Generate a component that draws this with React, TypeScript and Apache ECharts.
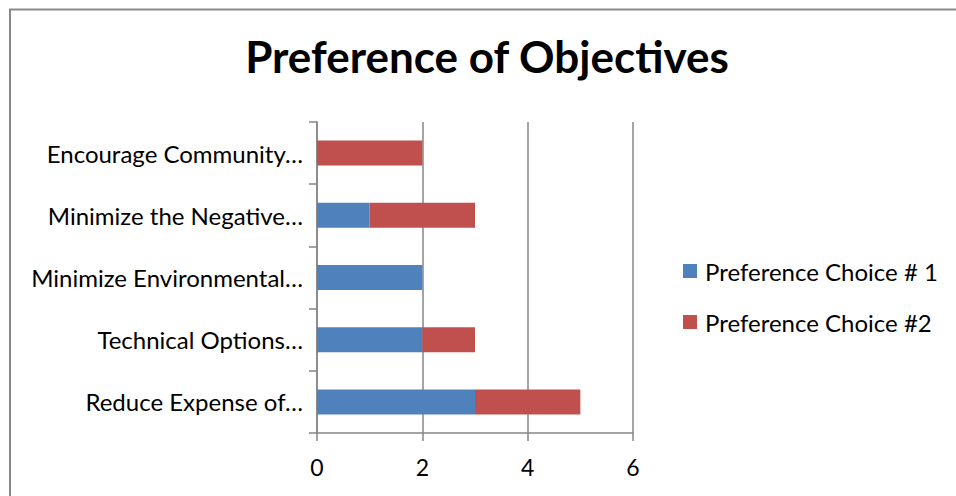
import React, { useEffect, useRef } from "react";
import * as echarts from "echarts";

const categories = [
  "Reduce Expense of…",
  "Technical Options…",
  "Minimize Environmental…",
  "Minimize the Negative…",
  "Encourage Community…",
];
const choice1 = [3, 2, 2, 1, 0];
const choice2 = [2, 1, 0, 2, 2];
const xTicks = [0, 2, 4, 6];

const FONT = "Lato, 'Open Sans', sans-serif";
const GREY = "#868686";

export default function App() {
  const ref = useRef<HTMLDivElement>(null);
  useEffect(() => {
    const chart = echarts.init(ref.current!, null, { renderer: "svg" });
    chart.setOption({
      animation: false,
      backgroundColor: "#ffffff",
      title: {
        text: "Preference of Objectives",
        left: 487,
        textAlign: "center",
        top: 34,
        padding: 0,
        textStyle: { fontFamily: FONT, fontSize: 44, fontWeight: "bold", color: "#000" },
      },
      graphic: [
        {
          type: "rect",
          shape: { x: 10, y: 9.5, width: 980, height: 520 },
          style: { fill: "none", stroke: "#898989", lineWidth: 2 },
          silent: true,
        },
      ],
      legend: {
        orient: "vertical",
        left: 683,
        top: 259,
        padding: 0,
        itemWidth: 14,
        itemHeight: 14,
        itemGap: 27,
        icon: "rect",
        textStyle: { fontFamily: FONT, fontSize: 24, color: "#000", padding: [0, 0, 0, 3] },
        data: ["Preference Choice # 1", "Preference Choice #2"],
      },
      grid: { left: 317, right: 323, top: 122, bottom: 63, containLabel: false },
      xAxis: {
        type: "value",
        min: xTicks[0],
        max: xTicks[xTicks.length - 1],
        interval: 2,
        axisLine: { show: true, lineStyle: { color: GREY, width: 1.5 } },
        axisTick: { show: true, length: 8, lineStyle: { color: GREY, width: 1.5 } },
        axisLabel: { fontFamily: FONT, fontSize: 23, color: "#000", margin: 22 },
        splitLine: { show: true, lineStyle: { color: GREY, width: 1.5 } },
      },
      yAxis: {
        type: "category",
        data: categories,
        axisLine: { show: true, lineStyle: { color: GREY, width: 1.5 } },
        axisTick: { show: true, length: 8, lineStyle: { color: GREY, width: 1.5 } },
        axisLabel: { fontFamily: FONT, fontSize: 24, color: "#000", margin: 14 },
      },
      series: [
        {
          name: "Preference Choice # 1",
          type: "bar",
          stack: "total",
          data: choice1,
          barWidth: 25,
          itemStyle: { color: "#4F81BD" },
        },
        {
          name: "Preference Choice #2",
          type: "bar",
          stack: "total",
          data: choice2,
          barWidth: 25,
          itemStyle: { color: "#C0504D" },
        },
      ],
    });
    return () => chart.dispose();
  }, []);
  return (
    <div
      ref={ref}
      style={{ position: "fixed", left: 0, top: 0, width: 956, height: 496 }}
    />
  );
}
